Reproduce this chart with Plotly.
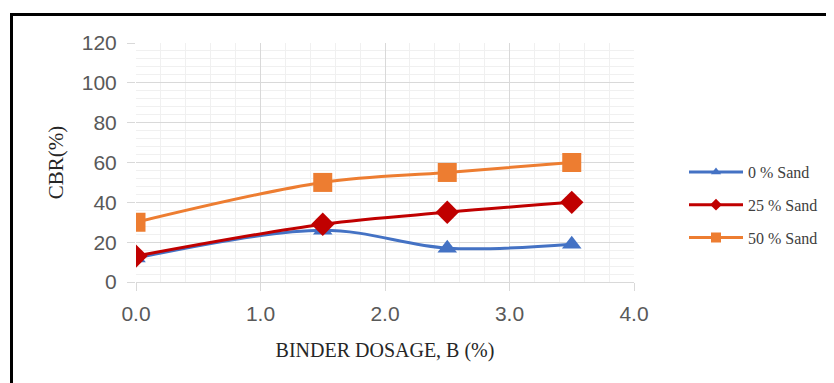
import plotly.graph_objects as go

binder = [0.0, 1.5, 2.5, 3.5]
cbr_0 = [12, 26, 17, 19]
cbr_25 = [13, 29, 35, 40]
cbr_50 = [30, 50, 55, 60]
names = ["0 % Sand", "25 % Sand", "50 % Sand"]
colors = ["#4472C4", "#C00000", "#ED7D31"]
symbols = ["triangle-up", "diamond", "square"]
sizes = [17, 18, 19]
legend_sizes = [9, 9, 10]
series = [cbr_0, cbr_25, cbr_50]

# page body has an 8px margin, so figure coords = page coords - 8
OFF = 8
W, H = 834 - OFF, 383 - OFF
L, T = 136 - OFF, 43 - OFF
R = W - (634 - OFF)
B = H - (282 - OFF)

fig = go.Figure()
for i, ys in enumerate(series):
    fig.add_trace(go.Scatter(
        x=binder, y=ys, mode="lines+markers", showlegend=False,
        line=dict(color=colors[i], width=3, shape="spline"),
        marker=dict(symbol=symbols[i], size=sizes[i], color=colors[i]),
    ))
for i in range(3):
    fig.add_trace(go.Scatter(
        x=[None], y=[None], mode="lines+markers", name=names[i],
        legendgroup=names[i],
        line=dict(color=colors[i], width=3),
        marker=dict(symbol=symbols[i], size=legend_sizes[i], color=colors[i]),
    ))

def px2x(px):
    return (px - OFF - L) / (W - L - R)

def py2y(py):
    return (H - B - (py - OFF)) / (H - T - B)

fig.add_shape(type="line", xref="paper", yref="paper",
              x0=px2x(11.5), x1=px2x(11.5), y0=py2y(13), y1=py2y(400),
              line=dict(color="black", width=3))
fig.add_shape(type="line", xref="paper", yref="paper",
              x0=px2x(10), x1=px2x(850), y0=py2y(14.5), y1=py2y(14.5),
              line=dict(color="black", width=3))

tickfont = dict(family="Liberation Sans, Arial, sans-serif", size=21, color="#595959")
xtitlefont = dict(family="Liberation Serif, Times New Roman, serif", size=20, color="#262626")
ytitlefont = dict(family="Liberation Serif, Times New Roman, serif", size=21, color="#262626")

fig.update_xaxes(
    range=[0, 4], dtick=1.0, tickformat=".1f", tick0=0,
    showgrid=True, gridcolor="#d9d9d9", gridwidth=1,
    ticks="outside", ticklen=8, tickcolor="#d9d9d9",
    minor=dict(dtick=0.2, showgrid=True, gridcolor="#f0f0f0", gridwidth=1),
    showline=False, zeroline=False, tickfont=tickfont, ticklabelstandoff=5,
    title=dict(text="BINDER DOSAGE, B (%)", font=xtitlefont, standoff=18),
)
fig.update_yaxes(
    range=[0, 120], dtick=20, tick0=0,
    showgrid=True, gridcolor="#d9d9d9", gridwidth=1,
    ticks="outside", ticklen=8, tickcolor="#d9d9d9",
    minor=dict(dtick=4, showgrid=True, gridcolor="#f0f0f0", gridwidth=1),
    showline=False, zeroline=True, zerolinecolor="#d9d9d9", zerolinewidth=1,
    tickfont=tickfont, ticklabelstandoff=6,
    title=dict(text="CBR(%)", font=ytitlefont, standoff=12),
)
fig.update_layout(
    width=W, height=H,
    margin=dict(l=L, r=R, t=T, b=B, autoexpand=False),
    paper_bgcolor="white", plot_bgcolor="white",
    legend=dict(x=px2x(684), y=py2y(155), xanchor="left", yanchor="top",
                font=dict(family="Liberation Serif, Times New Roman, serif", size=16, color="#404040"),
                itemwidth=54, tracegroupgap=9, bgcolor="rgba(0,0,0,0)"),
)
fig.write_html("out.html")
